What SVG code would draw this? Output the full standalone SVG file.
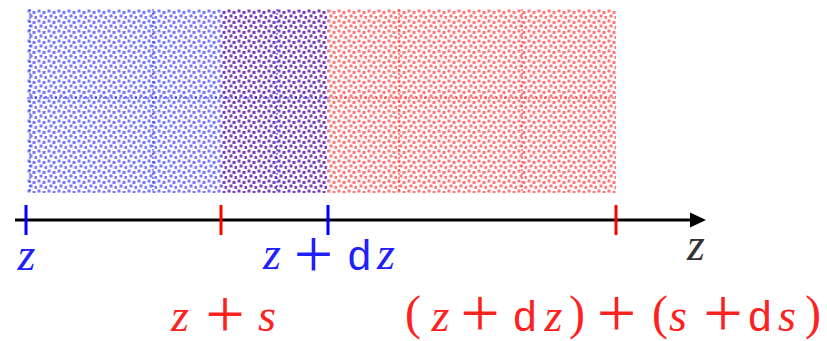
<svg xmlns="http://www.w3.org/2000/svg" width="827" height="341" viewBox="0 0 827 341">
<style>
.v{font-family:"Liberation Serif",serif;font-style:italic;font-size:46px;text-anchor:middle}
.d{font-family:"Liberation Sans",sans-serif;font-size:42px;text-anchor:middle}
.p{font-family:"Liberation Serif",serif;font-size:70px;text-anchor:middle}
.par{font-family:"Liberation Serif",serif;font-size:48px;text-anchor:middle}
.b{fill:#2020ff}
.r{fill:#ff2020}
.dashb{stroke:#0000ff;stroke-width:1;stroke-dasharray:2 2;fill:none;opacity:0.8}
.dashr{stroke:#ff0000;stroke-width:1;stroke-dasharray:2 2;fill:none;opacity:0.8}
.tick{stroke-width:3}
</style>
<defs>
<pattern id="pb" width="10" height="10" patternUnits="userSpaceOnUse" x="27" y="9">
<g fill="#7878ff">
<rect x="0.5" y="0.5" width="3" height="3"/>
<rect x="5.5" y="2" width="3" height="3"/>
<rect x="2.5" y="5.5" width="3" height="3"/>
<rect x="7.5" y="7" width="3" height="3"/>
</g>
</pattern>
<pattern id="pp" width="10" height="10" patternUnits="userSpaceOnUse" x="27" y="9">
<g fill="#7a3cbc">
<rect x="0.5" y="0.5" width="3" height="3"/>
<rect x="5.5" y="2" width="3" height="3"/>
<rect x="2.5" y="5.5" width="3" height="3"/>
<rect x="7.5" y="7" width="3" height="3"/>
</g>
</pattern>
<pattern id="pr" width="10" height="10" patternUnits="userSpaceOnUse" x="27" y="9">
<g fill="#ff7878">
<rect x="0.5" y="0.5" width="3" height="3"/>
<rect x="5.5" y="2" width="3" height="3"/>
<rect x="2.5" y="5.5" width="3" height="3"/>
<rect x="7.5" y="7" width="3" height="3"/>
</g>
</pattern>
</defs>
<rect width="827" height="341" fill="#fff"/>
<g id="region-blue">
<rect x="27" y="9" width="194" height="184" fill="url(#pb)"/>
</g>
<g id="region-overlap">
<rect x="221" y="9" width="107" height="184" fill="url(#pp)"/>
</g>
<g id="region-red">
<rect x="328" y="9" width="288" height="184" fill="url(#pr)"/>
</g>
<g id="grid">
<path class="dashb" d="M30 9V193M153 9V193M277 9V193M27 98H328"/>
<path class="dashr" d="M399 9V193M522 9V193M328 98H616"/>
</g>
<g id="connectors">
<line x1="15" y1="220" x2="692" y2="220" stroke="#000" stroke-width="3"/>
<polygon points="690,212.5 706,220 690,227.5" fill="#000"/>
</g>
<g id="ticks">
<line class="tick" x1="26" y1="205" x2="26" y2="235" stroke="#0000ff"/>
<line class="tick" x1="328" y1="205" x2="328" y2="235" stroke="#0000ff"/>
<line class="tick" x1="221" y1="205" x2="221" y2="235" stroke="#ff0000"/>
<line class="tick" x1="616" y1="205" x2="616" y2="235" stroke="#ff0000"/>
</g>
<g id="label-z">
<text class="v b" x="26.5" y="270">z</text>
</g>
<g id="label-axis">
<text class="v" x="696" y="260" fill="#333">z</text>
</g>
<g id="label-zdz">
<text class="v b" x="272" y="269">z</text>
<text class="p b" x="313.5" y="278">+</text>
<text class="d b" x="359.5" y="270">d</text>
<text class="v b" x="386" y="269">z</text>
</g>
<g id="label-zs">
<text class="v r" x="180" y="331">z</text>
<text class="p r" x="225" y="338">+</text>
<text class="v r" x="267" y="331">s</text>
</g>
<g id="label-total">
<text class="par r" x="413" y="329">(</text>
<text class="v r" x="440.5" y="331">z</text>
<text class="p r" x="480" y="337">+</text>
<text class="d r" x="525" y="331">d</text>
<text class="v r" x="553.5" y="331">z</text>
<text class="par r" x="577" y="329">)</text>
<text class="p r" x="616.5" y="337">+</text>
<text class="par r" x="660" y="329">(</text>
<text class="v r" x="678" y="331">s</text>
<text class="p r" x="723" y="337">+</text>
<text class="d r" x="760" y="331">d</text>
<text class="v r" x="787" y="331">s</text>
<text class="par r" x="813" y="329">)</text>
</g>
</svg>
